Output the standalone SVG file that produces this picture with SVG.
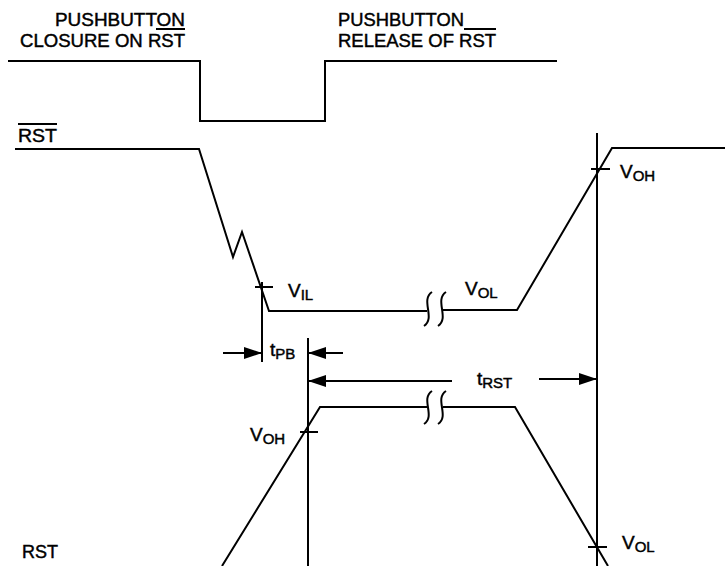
<svg xmlns="http://www.w3.org/2000/svg" width="725" height="566" viewBox="0 0 725 566">
<style>
  .w { fill: none; stroke: #000; stroke-width: 2; stroke-linejoin: miter; }
  .t { font-family: "Liberation Sans", Arial, sans-serif; fill: #000; stroke: #000; stroke-width: 0.45; }
  .lbl { font-size: 18.5px; }
  .v { font-size: 19px; }
  .sub { font-size: 15px; }
</style>
<defs>
  <marker id="ah" viewBox="0 0 18 12" refX="18" refY="6" markerWidth="18" markerHeight="12" orient="auto" markerUnits="userSpaceOnUse">
    <path d="M0,0 L18,6 L0,12 z" fill="#000"/>
  </marker>
</defs>
<rect width="725" height="566" fill="#fff"/>

<g id="labels-top">
  <text class="t lbl" x="55" y="26" textLength="130" lengthAdjust="spacingAndGlyphs">PUSHBUTTON</text>
  <text class="t lbl" x="20" y="47" textLength="165" lengthAdjust="spacingAndGlyphs">CLOSURE ON RST</text>
  <line class="w" x1="156" y1="29" x2="185" y2="29"/>
  <text class="t lbl" x="338" y="26" textLength="126" lengthAdjust="spacingAndGlyphs">PUSHBUTTON</text>
  <text class="t lbl" x="338" y="47" textLength="158" lengthAdjust="spacingAndGlyphs">RELEASE OF RST</text>
  <line class="w" x1="464" y1="29" x2="496" y2="29"/>
</g>

<g id="pushbutton-wave">
  <path class="w" d="M8 61 H200 V121 H325 V61 H557"/>
</g>

<g id="rstbar-label">
  <text class="t lbl" x="18" y="142" textLength="39" lengthAdjust="spacingAndGlyphs">RST</text>
  <line class="w" x1="18" y1="124" x2="57" y2="124"/>
</g>

<g id="rstbar-wave">
  <path class="w" d="M15 149 H199 L233 257 L242 232 L269 311 H427"/>
  <path class="w" d="M443 310 H517 L612 148 H725"/>
  <path class="w" d="M432 292 C420 300, 436 318, 424 326"/>
  <path class="w" d="M446 292 C434 300, 450 318, 438 326"/>
</g>

<g id="rst-label">
  <text class="t lbl" x="22" y="558" textLength="36" lengthAdjust="spacingAndGlyphs">RST</text>
</g>

<g id="rst-wave">
  <path class="w" d="M222 566 L320 407 H427"/>
  <path class="w" d="M443 407 H515 L608 566"/>
  <path class="w" d="M432 391 C420 399, 436 416, 424 424"/>
  <path class="w" d="M446 391 C434 399, 450 416, 438 424"/>
</g>

<g id="markers">
  <line class="w" x1="262" y1="282" x2="262" y2="362"/>
  <line class="w" x1="308" y1="338" x2="308" y2="566"/>
  <line class="w" x1="597" y1="133" x2="597" y2="566"/>
  <line class="w" x1="255" y1="287" x2="273" y2="287"/>
  <line class="w" x1="591" y1="169" x2="610" y2="169"/>
  <line class="w" x1="300" y1="432" x2="318" y2="432"/>
  <line class="w" x1="588" y1="547" x2="607" y2="547"/>
</g>

<g id="connectors">
  <line class="w" x1="223" y1="353" x2="262" y2="353" marker-end="url(#ah)"/>
  <line class="w" x1="343" y1="353" x2="308" y2="353" marker-end="url(#ah)"/>
  <line class="w" x1="452" y1="381" x2="308" y2="381" marker-end="url(#ah)"/>
  <line class="w" x1="539" y1="379" x2="597" y2="379" marker-end="url(#ah)"/>
</g>

<g id="level-labels">
  <text class="t v" x="288" y="297">V<tspan class="sub" dy="3">IL</tspan></text>
  <text class="t v" x="465" y="295">V<tspan class="sub" dy="3">OL</tspan></text>
  <text class="t v" x="620" y="178">V<tspan class="sub" dy="3">OH</tspan></text>
  <text class="t v" x="250" y="441">V<tspan class="sub" dy="3">OH</tspan></text>
  <text class="t v" x="622" y="549">V<tspan class="sub" dy="3">OL</tspan></text>
  <text class="t v" x="270" y="356">t<tspan class="sub" dy="3">PB</tspan></text>
  <text class="t v" x="477" y="385">t<tspan class="sub" dy="3">RST</tspan></text>
</g>
</svg>
